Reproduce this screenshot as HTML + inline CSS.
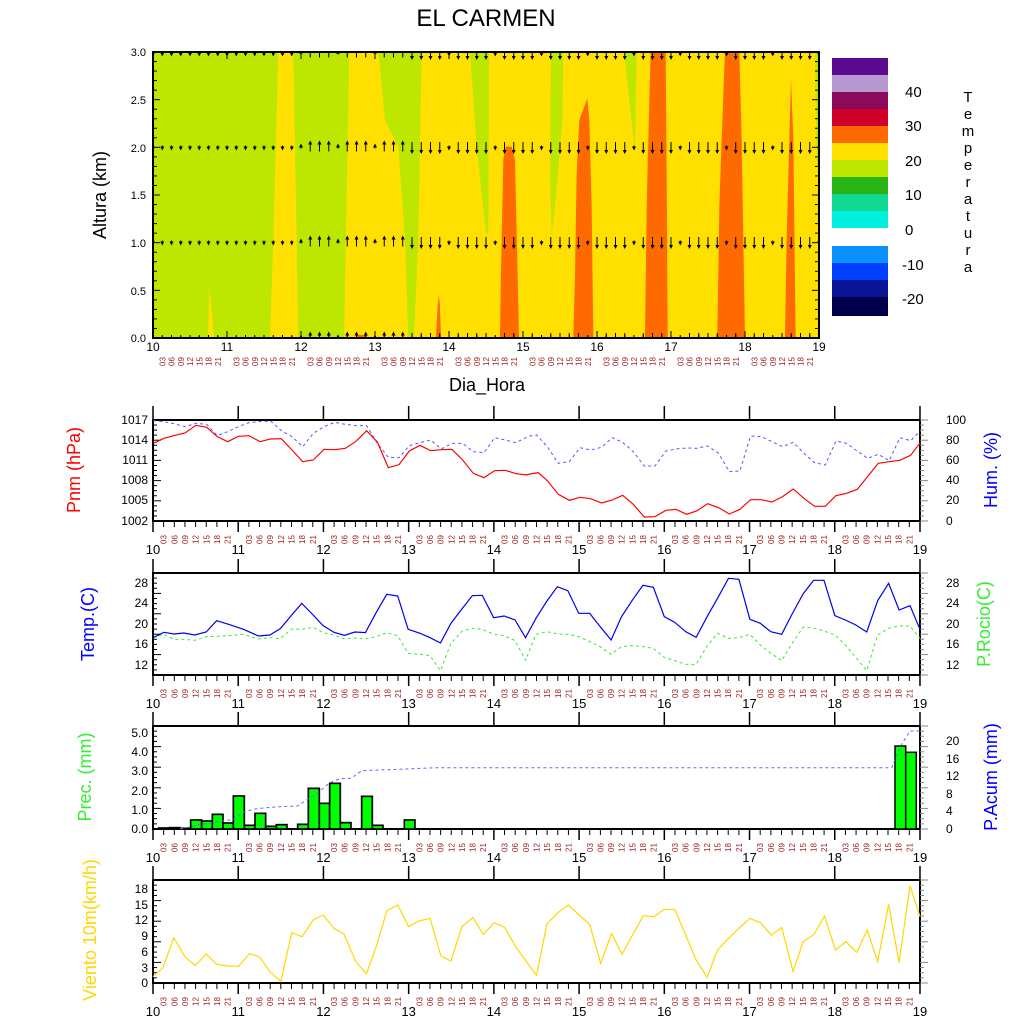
<!DOCTYPE html>
<html><head><meta charset="utf-8"><style>
html,body{margin:0;padding:0;background:#fff}
svg{display:block;font-family:"Liberation Sans",sans-serif}
</style></head><body>
<svg id="s" width="1024" height="1024" viewBox="0 0 1024 1024" xmlns="http://www.w3.org/2000/svg">
<defs>
<clipPath id="cp"><rect x="153" y="52" width="666" height="286"/></clipPath>
<marker id="ah" markerWidth="4" markerHeight="4" refX="2" refY="2" orient="auto"><path d="M0,0 L4,2 L0,4 z" fill="#000"/></marker>
</defs>
<text x="486" y="26" font-size="24" text-anchor="middle">EL CARMEN</text>

<g clip-path="url(#cp)">
<rect x="153" y="52" width="666" height="286" fill="#bde600"/>
<g transform="translate(140,40) scale(0.3333)">
<polygon fill="#ffe000" points="628,32 3000,32 3000,892 612,892"/>
<polygon fill="#ffe000" points="415,32 460,32 470,600 475,892 390,892 400,600"/>
<polygon fill="#ffe000" points="208,740 214,800 222,892 204,892"/>
<polygon fill="#bde600" points="715,32 845,32 835,600 822,892 805,892 795,600 775,320 735,240"/>
<polygon fill="#bde600" points="990,32 1047,32 1045,580 1038,580 1010,320"/>
<polygon fill="#ff6a00" points="888,892 903,892 900,800 897,765 893,800"/>
<polygon fill="#ff6a00" points="1097,320 1115,320 1125,360 1133,700 1137,892 1080,892 1083,700 1090,360"/>
<polygon fill="#ff6a00" points="650,885 678,885 678,892 650,892"/>
</g>
<g transform="translate(530,40) scale(0.3333)">
<polygon fill="#bde600" points="63,32 100,32 97,250 75,500 65,590 60,400"/>
<polygon fill="#bde600" points="282,32 320,32 315,320 313,320 300,200"/>
<polygon fill="#ff6a00" points="172,175 178,240 185,500 190,892 130,892 135,700 140,400 148,240"/>
<polygon fill="#ff6a00" points="362,32 407,32 410,400 413,892 345,892 350,500 355,300"/>
<polygon fill="#ff6a00" points="585,32 628,32 635,300 645,892 562,892 568,500 575,300"/>
<polygon fill="#ff6a00" points="783,115 790,300 797,892 765,892 770,600 778,300"/>
<polygon fill="#bde600" points="855,32 866,32 866,400 860,360"/>
</g>
<g id="barbs" stroke="#000" stroke-width="1"></g>
</g>
<rect x="153" y="52" width="666" height="286" fill="none" stroke="#000" stroke-width="2"/>
<g id="topticks" stroke="#000" stroke-width="1"></g>
<g font-size="11" text-anchor="end">
<text x="146" y="342">0.0</text><text x="146" y="295">0.5</text><text x="146" y="247">1.0</text>
<text x="146" y="199">1.5</text><text x="146" y="152">2.0</text><text x="146" y="104">2.5</text><text x="146" y="56">3.0</text>
</g>
<text transform="translate(106,195) rotate(-90)" font-size="18" text-anchor="middle">Altura (km)</text>
<text x="487" y="391" font-size="18" text-anchor="middle">Dia_Hora</text>

<g>
<rect x="832" y="58" width="56" height="17" fill="#5a0a91"/>
<rect x="832" y="75" width="56" height="17" fill="#b898d0"/>
<rect x="832" y="92" width="56" height="17" fill="#8b0a5a"/>
<rect x="832" y="109" width="56" height="17" fill="#d0002a"/>
<rect x="832" y="126" width="56" height="17" fill="#ff6a00"/>
<rect x="832" y="143" width="56" height="17" fill="#ffe000"/>
<rect x="832" y="160" width="56" height="17" fill="#bde600"/>
<rect x="832" y="177" width="56" height="17" fill="#28b414"/>
<rect x="832" y="194" width="56" height="17" fill="#10d890"/>
<rect x="832" y="211" width="56" height="17" fill="#00f0e0"/>
<rect x="832" y="246" width="56" height="17" fill="#0a90ff"/>
<rect x="832" y="263" width="56" height="17" fill="#0040ff"/>
<rect x="832" y="280" width="56" height="17" fill="#0a1496"/>
<rect x="832" y="297" width="56" height="19" fill="#00004a"/>
</g>
<g font-size="15">
<text x="905" y="97">40</text><text x="905" y="131">30</text><text x="905" y="166">20</text>
<text x="905" y="200">10</text><text x="905" y="235">0</text><text x="902" y="270">-10</text><text x="902" y="304">-20</text>
</g>
<g font-size="15" text-anchor="middle">
<text x="968" y="102">T</text><text x="968" y="119">e</text><text x="968" y="136">m</text><text x="968" y="153">p</text>
<text x="968" y="170">e</text><text x="968" y="187">r</text><text x="968" y="204">a</text><text x="968" y="221">t</text>
<text x="968" y="238">u</text><text x="968" y="255">r</text><text x="968" y="272">a</text>
</g>

<g id="frames"></g>

<g transform="translate(140,400) scale(0.3333)" fill="none">
<polyline stroke="#5555ff" stroke-width="3" stroke-dasharray="9,9" points="40,62 72,65 105,72 135,80 168,70 200,73 232,107 263,95 295,80 327,68 360,65 392,63 424,92 456,110 488,140 520,100 552,80 584,67 616,73 648,77 680,77 712,130 745,172 777,173 808,137 840,128 872,120 904,147 936,130 968,130 1000,155 1032,158 1064,113 1096,120 1128,128 1160,112 1170,108 1190,105 1222,140 1255,190 1288,185 1320,143 1352,150 1385,142 1417,113 1448,127 1480,155 1513,198 1545,198 1578,153 1608,147 1640,144 1670,145 1703,138 1736,160 1768,215 1800,213 1832,108 1864,110 1896,125 1928,140 1960,127 1992,160 2024,188 2056,195 2088,123 2120,130 2152,153 2183,175 2215,163 2248,182 2280,113 2312,122 2342,92"/>
<polyline stroke="#ff0000" stroke-width="3.5" points="40,130 72,115 105,106 135,99 168,76 200,82 232,110 263,125 295,109 327,107 360,125 392,117 424,116 456,150 488,185 520,180 552,148 584,149 616,145 648,124 680,92 712,126 745,203 777,194 808,153 840,136 872,152 904,149 936,148 968,180 1000,220 1032,233 1064,212 1096,211 1128,221 1160,225 1170,222 1195,218 1222,242 1255,283 1288,301 1320,292 1352,296 1385,309 1417,300 1448,286 1480,313 1513,351 1545,350 1578,331 1608,328 1640,343 1670,333 1703,311 1736,323 1768,342 1800,328 1832,299 1864,299 1896,306 1928,290 1960,267 1992,295 2024,319 2056,319 2088,287 2120,280 2152,268 2183,230 2215,190 2248,185 2280,181 2312,166 2342,127"/>
</g>
<g transform="translate(149,570) scale(0.4974,0.3333)" fill="none">
<polyline stroke="#33ee33" vector-effect="non-scaling-stroke" stroke-width="1" stroke-dasharray="3,3" points="8,203 30,193 50,208 70,208 92,211 115,200 136,199 160,197 190,193 220,207 243,203 264,206 287,177 307,178 330,172 350,188 372,195 393,207 414,204 435,207 457,200 478,188 500,197 521,250 545,253 565,257 586,302 607,220 630,183 650,175 670,178 693,193 714,197 736,212 757,271 778,193 800,185 821,192 842,193 864,200 886,215 907,230 929,253 950,230 971,227 993,230 1014,235 1036,262 1057,272 1079,283 1100,283 1122,228 1143,190 1165,205 1186,203 1208,193 1229,225 1250,250 1272,272 1293,220 1315,172 1336,174 1357,183 1379,195 1400,225 1421,262 1443,302 1465,195 1487,175 1508,168 1530,168 1550,205"/>
<polyline stroke="#0000ee" vector-effect="non-scaling-stroke" stroke-width="1.2" points="8,203 30,187 50,192 70,189 92,195 115,186 136,152 160,163 190,178 220,198 243,195 264,176 287,135 307,100 330,135 350,167 372,187 393,196 414,186 435,188 457,127 478,73 500,78 521,178 545,190 565,203 586,219 607,160 630,115 650,77 670,76 693,143 714,138 736,150 757,203 778,145 800,93 821,50 842,62 864,130 886,130 907,170 929,210 950,140 971,92 993,46 1014,52 1036,140 1057,157 1079,185 1100,202 1122,140 1143,85 1165,25 1186,28 1208,148 1229,160 1250,185 1272,193 1293,132 1315,72 1336,31 1357,31 1379,137 1400,150 1421,165 1443,186 1465,92 1487,40 1508,120 1530,107 1550,178"/>
</g>
<g transform="translate(150,720) scale(0.3333)" fill="#00ff00" stroke="#000" stroke-width="5">
<rect x="26" y="324" width="32" height="3"/><rect x="58" y="323" width="32" height="4"/><rect x="90" y="325" width="32" height="2"/>
<rect x="122" y="300" width="33" height="27"/><rect x="155" y="303" width="32" height="24"/><rect x="187" y="283" width="32" height="44"/>
<rect x="219" y="309" width="31" height="18"/><rect x="250" y="228" width="33" height="99"/><rect x="283" y="316" width="32" height="11"/>
<rect x="315" y="280" width="32" height="47"/><rect x="347" y="319" width="32" height="8"/><rect x="379" y="314" width="32" height="13"/>
<rect x="443" y="313" width="32" height="14"/><rect x="475" y="205" width="33" height="122"/><rect x="508" y="250" width="31" height="77"/>
<rect x="539" y="190" width="32" height="137"/><rect x="571" y="308" width="32" height="19"/><rect x="635" y="229" width="32" height="98"/>
<rect x="667" y="316" width="32" height="11"/><rect x="763" y="300" width="32" height="27"/>
</g>
<g fill="#00ff00" stroke="#000" stroke-width="1.5">
<rect x="895" y="746" width="10.7" height="83"/><rect x="905.7" y="752.3" width="10.6" height="76.7"/>
</g>
<polyline fill="none" stroke="#6666ff" stroke-width="1" stroke-dasharray="3,3" points="180,829 190.7,826.7 201.7,824.3 212.3,822.7 223,821 233.3,819.3 244.3,811.7 255,809 265.7,807.7 287,806.3 297.7,806 308.3,799 319.3,791.7 329.7,782.7 340.3,778.7 351,778.3 361.7,770.7 372.3,770.3 436.7,767.7 891.7,767.7 900,746.7 910,731 920,731"/>
<g transform="translate(149,875) scale(0.4974,0.3333)" fill="none">
<polyline stroke="#ffd700" vector-effect="non-scaling-stroke" stroke-width="1.2" points="8,305 28,278 50,188 72,245 93,272 115,237 136,268 158,273 180,274 202,236 222,245 243,290 265,320 287,173 308,185 330,135 350,120 372,160 392,177 415,258 437,297 458,210 478,108 500,90 522,155 543,138 565,130 587,243 607,258 629,155 651,128 672,178 694,143 715,157 737,215 758,258 779,301 800,147 822,113 843,90 865,120 886,148 908,265 930,176 951,238 972,180 994,122 1015,125 1036,103 1057,103 1079,180 1100,255 1122,307 1143,225 1165,190 1186,160 1208,130 1229,143 1251,180 1272,158 1295,290 1315,200 1337,178 1358,123 1380,225 1401,200 1423,232 1444,165 1465,260 1487,88 1508,263 1530,32 1550,125"/>
</g>

<g font-size="12" text-anchor="end">
<text x="148" y="424">1017</text><text x="148" y="444">1014</text><text x="148" y="464">1011</text><text x="148" y="484">1008</text><text x="148" y="504">1005</text><text x="148" y="525">1002</text>
<text x="148" y="587">28</text><text x="148" y="607">24</text><text x="148" y="628">20</text><text x="148" y="648">16</text><text x="148" y="669">12</text>
<text x="148" y="737">5.0</text><text x="148" y="756">4.0</text><text x="148" y="775">3.0</text><text x="148" y="795">2.0</text><text x="148" y="814">1.0</text><text x="148" y="833">0.0</text>
<text x="148" y="893">18</text><text x="148" y="909">15</text><text x="148" y="924">12</text><text x="148" y="940">9</text><text x="148" y="956">6</text><text x="148" y="972">3</text><text x="148" y="987">0</text>
</g>
<g font-size="12">
<text x="946" y="424">100</text><text x="946" y="444">80</text><text x="946" y="464">60</text><text x="946" y="484">40</text><text x="946" y="504">20</text><text x="946" y="525">0</text>
<text x="946" y="587">28</text><text x="946" y="607">24</text><text x="946" y="628">20</text><text x="946" y="648">16</text><text x="946" y="669">12</text>
<text x="946" y="745">20</text><text x="946" y="763">16</text><text x="946" y="780">12</text><text x="946" y="798">8</text><text x="946" y="815">4</text><text x="946" y="833">0</text>
</g>
<g font-size="18" text-anchor="middle">
<text transform="translate(80,470) rotate(-90)" fill="#ff0000">Pnm (hPa)</text>
<text transform="translate(997,470) rotate(-90)" fill="#0000ff">Hum. (%)</text>
<text transform="translate(94,624) rotate(-90)" fill="#0000ff">Temp.(C)</text>
<text transform="translate(990,624) rotate(-90)" fill="#33ee33">P.Rocio(C)</text>
<text transform="translate(91,777) rotate(-90)" fill="#33ee33">Prec. (mm)</text>
<text transform="translate(997,777) rotate(-90)" fill="#0000ff">P.Acum (mm)</text>
<text transform="translate(96,930) rotate(-90)" fill="#ffd700">Viento 10m(km/h)</text>
</g>
</svg>
<script>
(function(){
var NS="http://www.w3.org/2000/svg",s=document.getElementById('s');
function el(t,a,p,txt){var e=document.createElementNS(NS,t);for(var k in a)e.setAttribute(k,a[k]);if(txt!==undefined)e.textContent=txt;(p||s).appendChild(e);return e;}
var hrs=["03","06","09","12","15","18","21"];
var tt=document.getElementById('topticks');
for(var d=0;d<=9;d++){var x=153+74*d;
 el('line',{x1:x,y1:338,x2:x,y2:331},tt);el('line',{x1:x,y1:52,x2:x,y2:59},tt);
 el('text',{x:x,y:351,'font-size':12,'text-anchor':'middle'},s,String(10+d));
 if(d<9)for(var h=0;h<7;h++){var hx=153+74*d+9.25*(h+1);
  el('line',{x1:hx,y1:338,x2:hx,y2:335},tt);
  el('text',{transform:'translate('+(hx+3)+',366) rotate(-90)','font-size':8,fill:'#a02020'},s,hrs[h]);}
}
for(var k=0;k<=30;k++){var y=338-9.533*k,L=(k%5==0)?7:4;
 el('line',{x1:153,y1:y,x2:153+L,y2:y},tt);el('line',{x1:819,y1:y,x2:819-L,y2:y},tt);}
var b=document.getElementById('barbs');
var rows=[147,242,338,53];
for(var i=0;i<=72;i++){var x=153+9.25*i,len,dir;
 if(i<16){len=3;dir=1;}else if(i<28){len=(i%4==0)?3:9;dir=-1;}else{len=(i%5==2)?3:10;dir=1;}
 for(var r=0;r<rows.length;r++){var y0=rows[r]-len/2*dir;
  var l=el('line',{x1:x,y1:y0,x2:x,y2:y0+len*dir},b);l.setAttribute('marker-end','url(#ah)');}}
var P=[[420,521],[573,675],[726,829],[880,983]];
var f=document.getElementById('frames');
for(var p=0;p<4;p++){var t=P[p][0],bt=P[p][1];
 el('rect',{x:153,y:t,width:767,height:bt-t,fill:'none',stroke:'#000','stroke-width':2},f);
 for(var d=0;d<=9;d++){var x=153+85.22*d;
  el('line',{x1:x,y1:t,x2:x,y2:t-14,stroke:'#000','stroke-width':1.5},f);
  el('line',{x1:x,y1:bt,x2:x,y2:bt+11,stroke:'#000','stroke-width':1.5},f);
  el('text',{x:x,y:bt+33,'font-size':13,'text-anchor':'middle'},f,String(10+d));
  if(d<9)for(var h=0;h<7;h++){var hx=x+10.65*(h+1);
   el('line',{x1:hx,y1:bt,x2:hx,y2:bt+6,stroke:'#000','stroke-width':1},f);
   el('text',{transform:'translate('+(hx+3)+','+(bt+23)+') rotate(-90)','font-size':8,fill:'#a02020'},f,hrs[h]);}
 }
 for(var k=0;k<=20;k++){var y=t+(bt-t)*k/20,L=(k%4==0)?8:4;
  el('line',{x1:153,y1:y,x2:153+L,y2:y,stroke:'#000','stroke-width':1},f);
  el('line',{x1:920,y1:y,x2:920+L,y2:y,stroke:'#888','stroke-width':1},f);}
}
})();
</script>
</body></html>
